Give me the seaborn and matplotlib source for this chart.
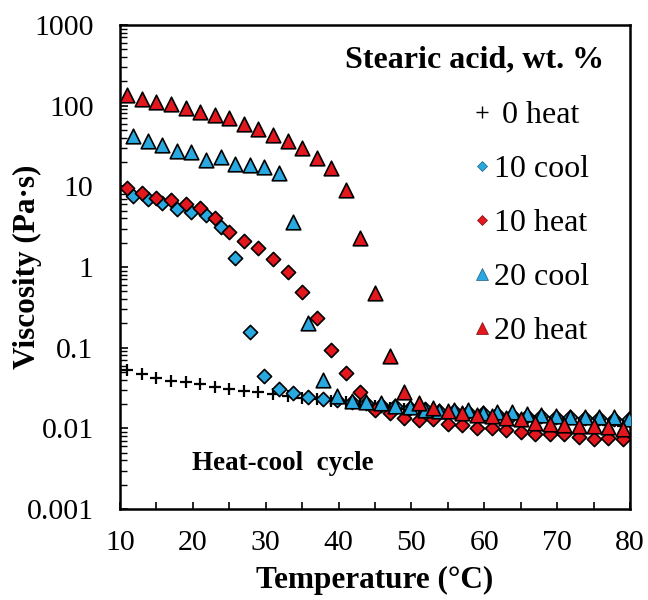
import numpy as np
import pandas as pd
import matplotlib
matplotlib.use("Agg")
import matplotlib.pyplot as plt
import seaborn as sns
from matplotlib.lines import Line2D
from matplotlib.ticker import LogLocator, FuncFormatter, MultipleLocator, NullFormatter

# ---------------- data ----------------
temp_heat = [11, 13, 15, 17, 19, 21, 23, 25, 27, 29, 31, 33, 35, 37, 39, 41, 43, 45,
             47, 49, 51, 53, 55, 57, 59, 61, 63, 65, 67, 69, 71, 73, 75, 77, 79]
temp_cool = [11.8, 13.8, 15.8, 17.8, 19.8, 21.8, 23.8, 25.8, 27.8, 29.8, 31.8, 33.8,
             35.8, 37.8, 39.8, 41.8, 43.8, 45.8, 47.8, 49.8, 51.8, 53.8, 55.8, 57.8,
             59.8, 61.8, 63.8, 65.8, 67.8, 69.8, 71.8, 73.8, 75.8, 77.8, 79.8]

visc_0_heat = [0.053, 0.047, 0.042, 0.039, 0.037, 0.0355, 0.033, 0.031, 0.029, 0.028,
               0.0265, 0.025, 0.024, 0.023, 0.022, 0.021, 0.020, 0.019, 0.018, 0.0175,
               0.017, 0.0163, 0.0157, 0.0150, 0.0145, 0.0140, 0.0135, 0.0130, 0.0125,
               0.0121, 0.0118, 0.0115, 0.0112, 0.0110, 0.0108]
visc_10_cool = [7.6, 6.9, 6.2, 5.2, 4.85, 4.4, 3.16, 1.3, 0.158, 0.0446, 0.0305, 0.0272,
                0.0247, 0.0229, 0.0222, 0.0215, 0.0205, 0.0197, 0.0188, 0.0180, 0.0172,
                0.0166, 0.0162, 0.0158, 0.0154, 0.0150, 0.0147, 0.0144, 0.0141, 0.0139,
                0.0137, 0.0135, 0.0133, 0.0132, 0.0130]
visc_10_heat = [9.6, 8.3, 7.2, 6.8, 6.0, 5.4, 4.0, 2.74, 2.10, 1.71, 1.25, 0.87, 0.49,
                0.23, 0.094, 0.049, 0.0285, 0.0169, 0.0154, 0.0133, 0.0126, 0.0129,
                0.0112, 0.0110, 0.0102, 0.0102, 0.0095, 0.0091, 0.0085, 0.0085, 0.0085,
                0.0077, 0.0073, 0.0075, 0.0073]
visc_20_cool = [42, 36.5, 32.5, 27.4, 26.9, 21.2, 22.9, 18.8, 18.4, 17.5, 14.8, 3.64,
                0.204, 0.0397, 0.0252, 0.0220, 0.0214, 0.0204, 0.0190, 0.0186, 0.0169,
                0.0164, 0.0169, 0.0169, 0.0154, 0.0160, 0.0160, 0.0151, 0.0146, 0.0142,
                0.0139, 0.0139, 0.0137, 0.0137, 0.0131]
visc_20_heat = [135, 120, 112, 104, 93, 84, 77, 70, 60, 52, 43, 36.5, 29.6, 22.6, 17.0,
                9.0, 2.27, 0.47, 0.079, 0.0285, 0.0204, 0.0177, 0.0164, 0.0157, 0.0146,
                0.0142, 0.0133, 0.0129, 0.0117, 0.0114, 0.0110, 0.0107, 0.0107, 0.0105,
                0.0097]

series_labels = ["0 heat", "10 cool", "10 heat", "20 cool", "20 heat"]
x_ticks = [10, 20, 30, 40, 50, 60, 70, 80]
y_ticks = [0.001, 0.01, 0.1, 1, 10, 100, 1000]

RED = "#E3171E"
BLUE = "#29A9E0"

sns.set_theme(style="white")
plt.rcParams["font.family"] = ["Liberation Serif", "DejaVu Serif"]

fig = plt.figure(figsize=(6.48, 6.0), dpi=100)
ax = fig.add_axes([120 / 648, 91 / 600, 510 / 648, 484 / 600])

frames = {
    "0 heat": pd.DataFrame({"T": temp_heat, "V": visc_0_heat}),
    "10 cool": pd.DataFrame({"T": temp_cool, "V": visc_10_cool}),
    "10 heat": pd.DataFrame({"T": temp_heat, "V": visc_10_heat}),
    "20 cool": pd.DataFrame({"T": temp_cool, "V": visc_20_cool}),
    "20 heat": pd.DataFrame({"T": temp_heat, "V": visc_20_heat}),
}
styles = {
    "0 heat": dict(marker="+", s=75, color="black", linewidth=1.6),
    "10 cool": dict(marker="D", s=52, color=BLUE, edgecolor="black", linewidth=1.2),
    "10 heat": dict(marker="D", s=52, color=RED, edgecolor="black", linewidth=1.2),
    "20 cool": dict(marker="^", s=110, color=BLUE, edgecolor="black", linewidth=1.2),
    "20 heat": dict(marker="^", s=110, color=RED, edgecolor="black", linewidth=1.2),
}
for i, lab in enumerate(series_labels):
    sns.scatterplot(data=frames[lab], x="T", y="V", ax=ax, legend=False,
                    zorder=3 + i, **styles[lab])

ax.set_yscale("log")
ax.set_xlim(10, 80)
ax.set_ylim(0.001, 1000)
ax.set_xticks(x_ticks)
ax.xaxis.set_minor_locator(MultipleLocator(5))
ax.xaxis.set_minor_formatter(NullFormatter())
ax.yaxis.set_major_locator(LogLocator(base=10))
ax.yaxis.set_minor_locator(LogLocator(base=10, subs=np.arange(2, 10)))
ax.yaxis.set_major_formatter(FuncFormatter(lambda v, p: "{:g}".format(v)))
ax.yaxis.set_minor_formatter(NullFormatter())

ax.tick_params(axis="both", which="both", direction="in", color="black",
               labelsize=21.5, labelcolor="black")
ax.tick_params(axis="x", which="both", length=5, width=1.2, pad=15,
               top=False, bottom=True)
ax.tick_params(axis="y", which="major", length=6, width=1.2, pad=19)
ax.tick_params(axis="y", which="minor", length=5, width=1.0)
ax.tick_params(axis="y", which="both", left=True, right=False)

for sp in ax.spines.values():
    sp.set_visible(True)
    sp.set_color("black")
    sp.set_linewidth(1.8)

ax.set_xlabel("Temperature (°C)", fontsize=22.5, fontweight="bold", color="black")
ax.set_ylabel("Viscosity (Pa·s)", fontsize=22.5, fontweight="bold", color="black")
ax.xaxis.set_label_coords(0.5, -0.118)
ax.yaxis.set_label_coords(-0.152, 0.5)

# legend
handles = [
    Line2D([], [], linestyle="none", marker="+", markersize=8, color="black",
           markeredgewidth=1.0),
    Line2D([], [], linestyle="none", marker="D", markersize=5.5, markerfacecolor=BLUE,
           markeredgecolor="#1a5e80", markeredgewidth=0.5),
    Line2D([], [], linestyle="none", marker="D", markersize=5.5, markerfacecolor=RED,
           markeredgecolor="#7a0d10", markeredgewidth=0.5),
    Line2D([], [], linestyle="none", marker="^", markersize=8, markerfacecolor=BLUE,
           markeredgecolor="#1a5e80", markeredgewidth=0.5),
    Line2D([], [], linestyle="none", marker="^", markersize=8, markerfacecolor=RED,
           markeredgecolor="#7a0d10", markeredgewidth=0.5),
]
legend_labels = [" " + series_labels[0]] + series_labels[1:]
leg = ax.legend(handles, legend_labels, loc="upper left",
                bbox_to_anchor=(471 / 648, 1 - 101 / 600),
                bbox_transform=fig.transFigure, frameon=False,
                fontsize=23, handlelength=0.7, handletextpad=0.03,
                labelspacing=0.77, borderpad=0, borderaxespad=0)
for t in leg.get_texts():
    t.set_color("black")

fig.text(475 / 648, 1 - 60 / 600, "Stearic acid, wt. %", ha="center", va="center",
         fontsize=23, fontweight="bold", color="black")
fig.text(192 / 648, 1 - 463 / 600, "Heat-cool  cycle", ha="left", va="center",
         fontsize=19.5, fontweight="bold", color="black")

fig.savefig("out.png", dpi=100)
